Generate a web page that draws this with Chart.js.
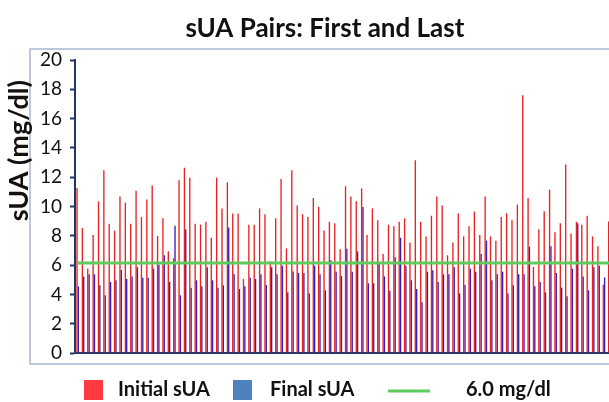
<!DOCTYPE html>
<html>
<head>
<meta charset="utf-8">
<script src="https://cdn.jsdelivr.net/npm/chart.js@4.4.1/dist/chart.umd.min.js"></script>
<style>
  html, body { margin: 0; padding: 0; overflow: hidden; background: #ffffff; }
  canvas { display: block; }
</style>
</head>
<body>
<canvas id="sua_chart" width="612" height="402"></canvas>
<script>
// first and last serum uric acid per patient (mg/dl)
const initialSUA = [
  11.26, 8.53, 5.76, 8.05, 10.35, 12.47, 8.83, 8.35, 10.69, 10.26,
  8.83, 11.08, 9.28, 10.47, 11.44, 7.99, 9.19, 6.94, 6.46, 11.79,
  12.65, 11.97, 8.83, 8.76, 8.96, 7.87, 11.97, 9.87, 11.65, 9.53,
  9.53, 5.05, 8.76, 8.76, 9.87, 9.47, 6.26, 9.19, 11.88, 7.14,
  12.47, 10.06, 9.47, 9.28, 10.58, 9.97, 8.37, 8.96, 8.85, 7.08,
  11.38, 10.69, 10.35, 11.24, 8.05, 9.87, 9.06, 6.76, 8.76, 8.65,
  8.96, 9.19, 7.55, 13.15, 8.96, 7.96, 9.37, 10.69, 10.06, 6.67,
  7.55, 9.53, 7.96, 8.65, 9.65, 8.05, 10.69, 7.96, 7.67, 9.28,
  9.53, 9.06, 10.13, 17.59, 10.58, 5.87, 8.44, 9.67, 11.15, 8.24,
  8.85, 12.86, 8.15, 8.96, 8.76, 9.37, 7.96, 7.28, 4.66, 8.98
];
const finalSUA = [
  4.55, 5.23, 5.37, 5.37, 4.62, 3.94, 4.85, 4.96, 5.67, 5.05,
  5.23, 5.85, 5.14, 5.14, 5.76, 6.03, 6.67, 4.85, 8.69, 3.94,
  8.44, 4.46, 4.96, 4.55, 5.85, 4.96, 4.46, 4.62, 8.56, 5.37,
  4.37, 4.55, 5.14, 5.05, 5.37, 4.64, 5.85, 5.37, 5.96, 4.14,
  5.57, 5.46, 5.46, 4.07, 5.96, 5.37, 4.28, 6.33, 5.55, 5.26,
  7.12, 5.55, 6.94, 9.97, 4.76, 4.76, 6.07, 5.23, 4.25, 6.53,
  7.87, 5.96, 4.96, 4.37, 3.46, 5.55, 5.64, 4.85, 5.37, 5.37,
  5.85, 4.07, 4.64, 5.76, 5.55, 6.76, 7.67, 4.96, 5.37, 5.55,
  4.07, 4.62, 5.37, 5.37, 7.26, 4.55, 4.85, 4.14, 7.28, 5.46,
  4.46, 3.87, 5.76, 8.85, 5.23, 4.28, 5.85, 5.96, 5.16, null
];
const pairLabels = initialSUA.map((v, i) => String(i + 1));
const thresholdValue = 6.15;
const seriesNames = ["Initial sUA", "Final sUA", "6.0 mg/dl"];
const yTicks = [0, 2, 4, 6, 8, 10, 12, 14, 16, 18, 20];

const FONT = "Lato, 'DejaVu Sans', sans-serif";
const AXIS_COLOR = "#1f3864";

// legend under the plot, drawn by hand so the line item looks like a line
const bottomLegend = {
  id: "bottomLegend",
  afterDraw(chart) {
    const ctx = chart.ctx;
    const ds = chart.data.datasets;
    const y = 390;
    ctx.save();
    ctx.font = "bold 20px " + FONT;
    ctx.textBaseline = "middle";
    ctx.textAlign = "left";
    // red box
    ctx.fillStyle = "#ff3b3f";
    ctx.fillRect(84, y - 10, 19, 20);
    ctx.fillStyle = "#111111";
    ctx.fillText(ds[0].label, 118, y);
    // blue box
    ctx.fillStyle = "#4f81bd";
    ctx.fillRect(233, y - 10, 19, 20);
    ctx.fillStyle = "#111111";
    ctx.fillText(ds[1].label, 270, y);
    // green line
    ctx.strokeStyle = ds[2].borderColor;
    ctx.lineWidth = 3;
    ctx.beginPath();
    ctx.moveTo(388, y + 1);
    ctx.lineTo(430, y + 1);
    ctx.stroke();
    ctx.fillText(ds[2].label, 466, y);
    ctx.restore();
  }
};

// light frame round the plot
const plotFrame = {
  id: "plotFrame",
  beforeDraw(chart) {
    const ctx = chart.ctx;
    const a = chart.chartArea;
    ctx.save();
    ctx.strokeStyle = "#a9b9cf";
    ctx.lineWidth = 1.5;
    ctx.strokeRect(30, a.top - 11, chart.width, a.bottom - a.top + 22);
    ctx.restore();
  }
};

const ctx = document.getElementById("sua_chart").getContext("2d");
new Chart(ctx, {
  type: "bar",
  data: {
    labels: pairLabels,
    datasets: [
      {
        label: seriesNames[0],
        data: initialSUA,
        backgroundColor: "#e82222",
        categoryPercentage: 0.5,
        barPercentage: 1.0,
        order: 1,
      },
      {
        label: seriesNames[1],
        data: finalSUA,
        backgroundColor: "#3a1cb8",
        categoryPercentage: 0.5,
        barPercentage: 1.0,
        order: 1,
      },
      {
        type: "line",
        label: seriesNames[2],
        data: pairLabels.map(() => thresholdValue),
        borderColor: "#5ccc5c",
        borderWidth: 3,
        pointRadius: 0,
        fill: false,
        order: 0,
      },
    ],
  },
  options: {
    responsive: false,
    animation: false,
    devicePixelRatio: 1,
    layout: { padding: { left: 0, right: 0, top: 0, bottom: 49 } },
    plugins: {
      legend: { display: false },
      tooltip: { enabled: false },
      title: {
        display: true,
        text: "      sUA Pairs: First and Last",
        color: "#111111",
        font: { family: FONT, size: 26, weight: "bold" },
        padding: { top: 13, bottom: 15.8 },
      },
    },
    scales: {
      x: {
        ticks: { display: false },
        grid: { display: false, drawTicks: false },
        border: { display: true, color: AXIS_COLOR, width: 2 },
        afterFit: function (scale) { scale.height = 0; },
      },
      y: {
        min: yTicks[0],
        max: yTicks[yTicks.length - 1],
        afterBuildTicks: function (scale) {
          scale.ticks = yTicks.map((v) => ({ value: v }));
        },
        ticks: {
          color: "#111111",
          padding: 8,
          font: { family: FONT, size: 19 },
        },
        grid: {
          drawOnChartArea: false,
          drawTicks: true,
          tickLength: 5,
          tickColor: AXIS_COLOR,
          tickWidth: 2,
        },
        border: { display: true, color: AXIS_COLOR, width: 2 },
        title: {
          display: true,
          text: "sUA (mg/dl)\u2002 ",
          align: "end",
          color: "#111111",
          font: { family: FONT, size: 27, weight: "bold" },
          padding: { top: 3, bottom: 0 },
        },
        afterFit: function (scale) { scale.width = 75; },
      },
    },
  },
  plugins: [plotFrame, bottomLegend],
});
</script>
</body>
</html>
